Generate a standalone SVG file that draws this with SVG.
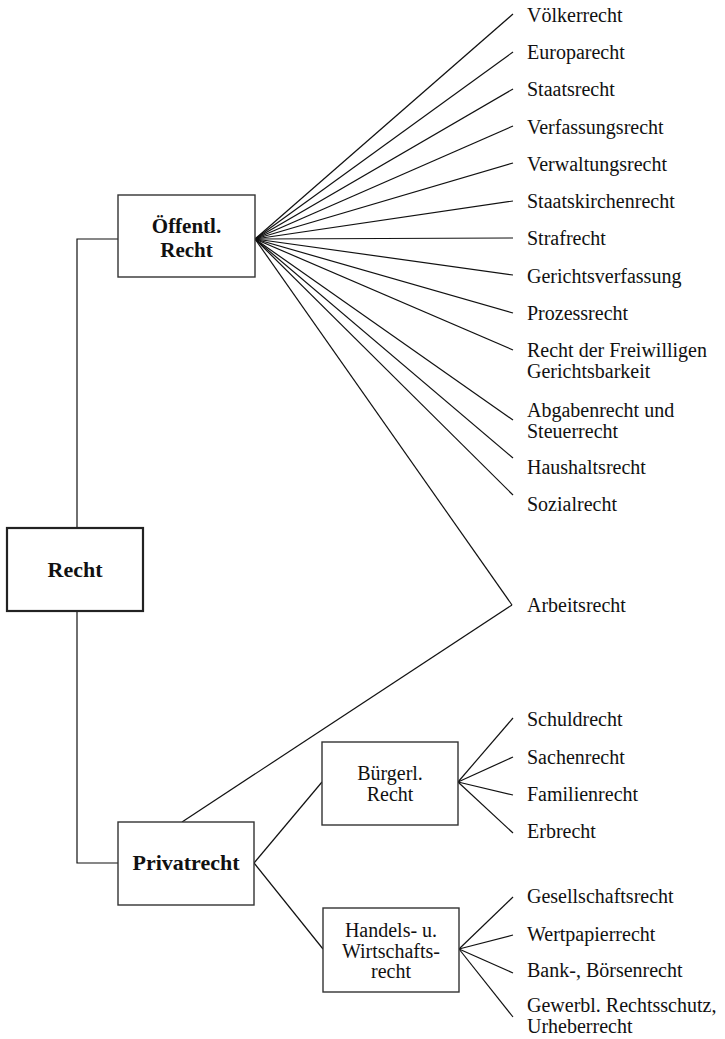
<svg xmlns="http://www.w3.org/2000/svg" width="725" height="1039" viewBox="0 0 725 1039">
<style>
.box{fill:#fff;stroke:#333;stroke-width:1.4}
.root{fill:#fff;stroke:#222;stroke-width:2.2}
.b{font-family:"Liberation Serif",serif;font-weight:bold;font-size:22px;fill:#111;text-anchor:middle}
.m{font-family:"Liberation Serif",serif;font-size:20px;fill:#111;text-anchor:middle}
.l{font-family:"Liberation Serif",serif;font-size:20px;fill:#111}
#connectors line,#connectors polyline{stroke:#111;stroke-width:1.2;fill:none}
</style>
<rect width="725" height="1039" fill="#fff"/>
<g id="connectors">
<polyline points="77,528 77,239 118,239"/>
<polyline points="77,611 77,863 118,863"/>
<line x1="255" y1="239" x2="513" y2="14"/>
<line x1="255" y1="239" x2="513" y2="52"/>
<line x1="255" y1="239" x2="513" y2="89"/>
<line x1="255" y1="239" x2="513" y2="126"/>
<line x1="255" y1="239" x2="513" y2="163"/>
<line x1="255" y1="239" x2="513" y2="201"/>
<line x1="255" y1="239" x2="513" y2="238"/>
<line x1="255" y1="239" x2="513" y2="275"/>
<line x1="255" y1="239" x2="513" y2="313"/>
<line x1="255" y1="239" x2="513" y2="350"/>
<line x1="255" y1="239" x2="513" y2="420"/>
<line x1="255" y1="239" x2="513" y2="458"/>
<line x1="255" y1="239" x2="513" y2="495"/>
<line x1="255" y1="239" x2="512" y2="605"/>
<line x1="182" y1="822" x2="512" y2="605"/>
<line x1="254" y1="863" x2="322" y2="782"/>
<line x1="254" y1="863" x2="323" y2="949"/>
<line x1="458" y1="782" x2="513" y2="718"/>
<line x1="458" y1="782" x2="513" y2="757"/>
<line x1="458" y1="782" x2="513" y2="795"/>
<line x1="458" y1="782" x2="513" y2="833"/>
<line x1="459" y1="949" x2="513" y2="897"/>
<line x1="459" y1="949" x2="513" y2="935"/>
<line x1="459" y1="949" x2="513" y2="973"/>
<line x1="459" y1="949" x2="513" y2="1017"/>
</g>
<g id="recht">
<rect class="root" x="7" y="528" width="136" height="83"/>
<text class="b" x="75" y="577">Recht</text>
</g>
<g id="oeffentl">
<rect class="box" x="118" y="195" width="137" height="82"/>
<text class="b" x="186.5" y="233" style="font-size:21px">Öffentl.</text>
<text class="b" x="186.5" y="256.5" style="font-size:21px">Recht</text>
</g>
<g id="privatrecht">
<rect class="box" x="118" y="822" width="136" height="83"/>
<text class="b" x="186" y="870">Privatrecht</text>
</g>
<g id="buergerl">
<rect class="box" x="322" y="742" width="136" height="83"/>
<text class="m" x="390" y="780">Bürgerl.</text>
<text class="m" x="390" y="801">Recht</text>
</g>
<g id="handels">
<rect class="box" x="323" y="908" width="136" height="84"/>
<text class="m" x="391" y="937">Handels- u.</text>
<text class="m" x="391" y="958">Wirtschafts-</text>
<text class="m" x="391" y="978">recht</text>
</g>
<g id="leaves">
<text class="l" x="527" y="22">Völkerrecht</text>
<text class="l" x="527" y="59">Europarecht</text>
<text class="l" x="527" y="96">Staatsrecht</text>
<text class="l" x="527" y="134">Verfassungsrecht</text>
<text class="l" x="527" y="171">Verwaltungsrecht</text>
<text class="l" x="527" y="208">Staatskirchenrecht</text>
<text class="l" x="527" y="245">Strafrecht</text>
<text class="l" x="527" y="283">Gerichtsverfassung</text>
<text class="l" x="527" y="320">Prozessrecht</text>
<text class="l" x="527" y="357">Recht der Freiwilligen</text>
<text class="l" x="527" y="378">Gerichtsbarkeit</text>
<text class="l" x="527" y="417">Abgabenrecht und</text>
<text class="l" x="527" y="438">Steuerrecht</text>
<text class="l" x="527" y="474">Haushaltsrecht</text>
<text class="l" x="527" y="511">Sozialrecht</text>
<text class="l" x="527" y="612">Arbeitsrecht</text>
<text class="l" x="527" y="726">Schuldrecht</text>
<text class="l" x="527" y="764">Sachenrecht</text>
<text class="l" x="527" y="801">Familienrecht</text>
<text class="l" x="527" y="838">Erbrecht</text>
<text class="l" x="527" y="903">Gesellschaftsrecht</text>
<text class="l" x="527" y="941">Wertpapierrecht</text>
<text class="l" x="527" y="977">Bank-, Börsenrecht</text>
<text class="l" x="527" y="1012">Gewerbl. Rechtsschutz,</text>
<text class="l" x="527" y="1033">Urheberrecht</text>
</g>
</svg>
